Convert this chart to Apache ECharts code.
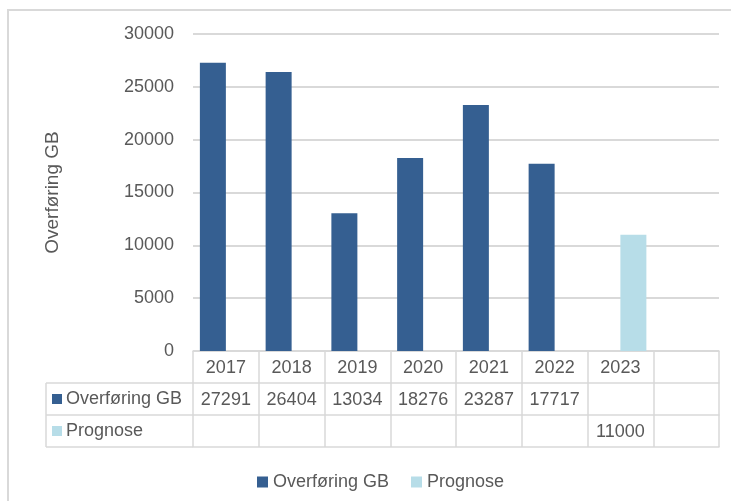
<!DOCTYPE html>
<html>
<head>
<meta charset="utf-8">
<script src="https://cdn.jsdelivr.net/npm/echarts@6/dist/echarts.min.js"></script>
<style>html,body{margin:0;padding:0;background:#fff}#c{width:731px;height:501px}</style>
</head>
<body>
<div id="c"></div>
<script>
var categories = ['2017', '2018', '2019', '2020', '2021', '2022', '2023', ''];
var seriesNames = ['Overføring GB', 'Prognose'];
var overforing = [27291, 26404, 13034, 18276, 23287, 17717, null, null];
var prognose = [null, null, null, null, null, null, 11000, null];
var yTicks = { min: 0, max: 30000, interval: 5000 };

var colDark = '#355f91', colLight = '#b7dde8', txt = '#595959', line = '#d9d9d9';
var font = '"Liberation Sans", Arial, sans-serif';
function cells(arr) { return arr.map(function (v) { return v == null ? '' : String(v); }); }

var chart = echarts.init(document.getElementById('c'), null, { renderer: 'canvas' });
var gridLeft = 193, gridRight = 719, axisY = 351;
var rowY = [351, 383, 415, 447];

function tableAxis(data, offset, showLabel) {
  return {
    type: 'category', data: data, position: 'bottom', offset: offset,
    axisLine: { show: true, lineStyle: { color: line, width: 1.5 } },
    axisTick: { show: false },
    axisLabel: { show: showLabel, interval: 0, fontSize: 18, color: txt, fontFamily: font, margin: 8 },
    splitLine: { show: false }
  };
}

var option = {
  animation: false,
  textStyle: { fontFamily: font },
  grid: { left: gridLeft, right: 731 - gridRight, top: 34, bottom: 501 - axisY, containLabel: false },
  legend: {
    data: seriesNames, left: 252, top: 468, icon: 'rect', itemWidth: 11, itemHeight: 11, itemGap: 22,
    textStyle: { fontSize: 18, color: txt, fontFamily: font, padding: [0, 0, 0, 0] }
  },
  xAxis: [
    {
      type: 'category', data: categories, position: 'bottom',
      axisLine: { show: true, lineStyle: { color: line, width: 1.5 } },
      axisTick: { show: true, interval: 0, length: rowY[3] - rowY[0], lineStyle: { color: line, width: 1.5 } },
      axisLabel: { interval: 0, fontSize: 18, color: txt, fontFamily: font, margin: 8 },
      splitLine: { show: false }
    },
    tableAxis(cells(overforing), rowY[1] - rowY[0], true),
    tableAxis(cells(prognose), rowY[2] - rowY[0], true),
    tableAxis(categories.map(function () { return ''; }), rowY[3] - rowY[0], false)
  ],
  yAxis: {
    type: 'value', min: yTicks.min, max: yTicks.max, interval: yTicks.interval,
    name: seriesNames[0], nameLocation: 'middle', nameRotate: 90, nameGap: 131,
    nameTextStyle: { fontSize: 19, color: txt, fontFamily: font },
    axisLine: { show: false }, axisTick: { show: false },
    axisLabel: { fontSize: 18, color: txt, fontFamily: font, margin: 19, formatter: function (v) { return String(v); } },
    splitLine: { lineStyle: { color: line, width: 2 } }
  },
  series: [
    { name: seriesNames[0], type: 'bar', xAxisIndex: 0, data: overforing, barWidth: 26, barGap: '0%', itemStyle: { color: colDark } },
    { name: seriesNames[1], type: 'bar', xAxisIndex: 0, data: prognose, barWidth: 26, barGap: '0%', itemStyle: { color: colLight } }
  ],
  graphic: [
    { type: 'rect', shape: { x: 8, y: 10, width: 760, height: 520 }, style: { fill: 'none', stroke: line, lineWidth: 2 }, silent: true },
    { type: 'line', shape: { x1: 46, y1: rowY[1], x2: gridLeft, y2: rowY[1] }, style: { stroke: line, lineWidth: 1.5 } },
    { type: 'line', shape: { x1: 46, y1: rowY[2], x2: gridLeft, y2: rowY[2] }, style: { stroke: line, lineWidth: 1.5 } },
    { type: 'line', shape: { x1: 46, y1: rowY[3], x2: gridLeft, y2: rowY[3] }, style: { stroke: line, lineWidth: 1.5 } },
    { type: 'line', shape: { x1: 46, y1: rowY[1], x2: 46, y2: rowY[3] }, style: { stroke: line, lineWidth: 1.5 } },
    { type: 'rect', shape: { x: 52, y: (rowY[1] + rowY[2]) / 2 - 5, width: 10, height: 10 }, style: { fill: colDark } },
    { type: 'text', x: 66, y: (rowY[1] + rowY[2]) / 2, style: { text: seriesNames[0], fontSize: 18, fill: txt, fontFamily: font, verticalAlign: 'middle' } },
    { type: 'rect', shape: { x: 52, y: (rowY[2] + rowY[3]) / 2 - 5, width: 10, height: 10 }, style: { fill: colLight } },
    { type: 'text', x: 66, y: (rowY[2] + rowY[3]) / 2, style: { text: seriesNames[1], fontSize: 18, fill: txt, fontFamily: font, verticalAlign: 'middle' } }
  ]
};
chart.setOption(option);
</script>
</body>
</html>
